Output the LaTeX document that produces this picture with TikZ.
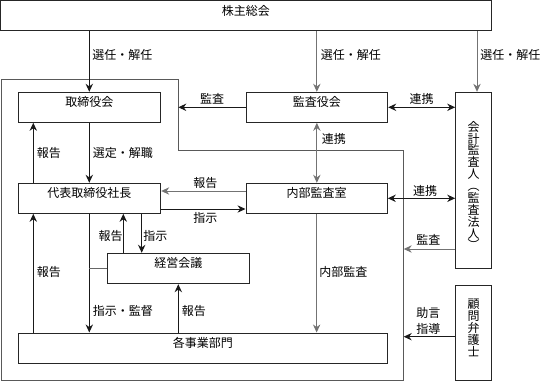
\documentclass[tikz,border=0pt]{standalone}
\usepackage{fontspec}
\setmainfont{Noto Sans CJK JP}
\usetikzlibrary{arrows.meta,fit,calc}
\begin{document}
\begin{tikzpicture}[x=0.75pt,y=-0.75pt,
  font=\fontsize{9}{9}\selectfont,
  box/.style={draw=black!85, line width=0.75pt, inner sep=0pt, align=center},
  arr/.style={-{Stealth[length=6pt,width=5.5pt]}, line width=0.75pt, draw=black!90},
  darr/.style={{Stealth[length=6pt,width=5.5pt]}-{Stealth[length=6pt,width=5.5pt]}, line width=0.75pt, draw=black!90},
  gl/.style={draw=black!55},
  frame/.style={draw=black!65, line width=0.75pt},
  lab/.style={inner sep=0pt, text height=0.85em, text depth=0.15em},
  vtext/.style={inner sep=0pt, align=center, font=\fontsize{9}{8.9}\selectfont}
]
\useasboundingbox (0,0) rectangle (540,382);

% company frame
\draw[frame] (1,79) -- (178.3,79) -- (178.3,150.3) -- (403.7,150.3) -- (403.7,380) -- (1,380) -- cycle;

% boxes
\node[box, fit={(0.5,0.5) (491.5,30.7)}] (top) {株主総会};
\node[box, fit={(18.3,92.3) (160.3,122.3)}] (tori) {取締役会};
\node[box, fit={(246,92.3) (387.7,122.3)}] (kansa) {監査役会};
\node[box, fit={(455.7,92.3) (491.7,268.3)}] (kaikei) {};
\node[vtext] (kaikeit) at (473.5,185.5) {会\\計\\監\\査\\人\\︵\\監\\査\\法\\人\\︶};
\node[box, fit={(18.3,183.3) (160.7,213.3)}] (daihyo) {代表取締役社長};
\node[box, fit={(246,183.3) (387.3,213.3)}] (naibu) {内部監査室};
\node[box, fit={(107.3,253.3) (249.3,283.7)}] (keiei) {経営会議};
\node[box, fit={(18.3,333) (387.7,363.3)}] (kakuji) {各事業部門};
\node[box, fit={(455.7,285.7) (491.7,380)}, font=\fontsize{9}{9}\selectfont] (komon) {顧\\問\\弁\\護\\士};

% helper coordinates
\coordinate (xk) at (477,0);
\coordinate (x33) at (33.3,0);
\coordinate (x123) at (123.3,0);
\coordinate (x142) at (141.7,0);
\coordinate (y191) at (0,191);
\coordinate (y209) at (0,209);
\coordinate (frA) at (178.3,107.3);
\coordinate (frB) at (403.7,249);
\coordinate (frC) at (403.7,336.7);

% connectors
\draw[arr] (top.south -| tori.north) -- (tori.north);
\draw[arr,gl] (top.south -| kansa.north) -- (kansa.north);
\draw[arr,gl] (top.south -| xk) -- (kaikei.north -| xk);
\draw[arr] (kansa.west) -- (frA);
\draw[darr] (kansa.east) -- (kansa.east -| kaikei.west);
\draw[arr] (daihyo.north -| x33) -- (tori.south -| x33);
\draw[arr] (tori.south) -- (tori.south |- daihyo.north);
\draw[arr,gl] (naibu.west |- y191) -- (daihyo.east |- y191);
\draw[arr] (daihyo.east |- y209) -- (naibu.west |- y209);
\draw[darr,gl] (kansa.south) -- (kansa.south |- naibu.north);
\draw[darr] (naibu.east) -- (naibu.east -| kaikei.west);
\draw[arr,gl] (kaikei.west |- frB) -- (frB);
\draw[arr] (keiei.north -| x123) -- (daihyo.south -| x123);
\draw[arr] (daihyo.south -| x142) -- (keiei.north -| x142);
\draw[arr] (kakuji.north -| x33) -- (daihyo.south -| x33);
\draw[arr] (daihyo.south -| tori.south) -- (kakuji.north -| tori.south);
\draw[line width=0.75pt, draw=black!60] (keiei.west) -- (keiei.west -| tori.south);
\draw[arr] (kakuji.north -| keiei.south) -- (keiei.south);
\draw[arr,gl] (naibu.south) -- (naibu.south |- kakuji.north);
\draw[arr] (komon.west |- frC) -- (frC);

% labels
\node[lab, anchor=west] (l1) at (92,55) {選任・解任};
\node[lab, anchor=west] (l2) at (320.7,55) {選任・解任};
\node[lab, anchor=west] (l3) at (480,55) {選任・解任};
\node[lab] (l4) at (212,99) {監査};
\node[lab] (l5) at (421.5,99) {連携};
\node[lab, anchor=west] (l6) at (36.7,153.3) {報告};
\node[lab, anchor=west] (l7) at (92.7,153.3) {選定・解職};
\node[lab] (l8) at (205.3,183.3) {報告};
\node[lab] (l9) at (205.3,218.3) {指示};
\node[lab, anchor=west] (l10) at (321.7,139) {連携};
\node[lab] (l11) at (425,191) {連携};
\node[lab] (l12) at (428.3,240) {監査};
\node[lab] (l13) at (110.5,235.7) {報告};
\node[lab] (l14) at (155.3,235.7) {指示};
\node[lab, anchor=west] (l15) at (36.7,271.7) {報告};
\node[lab, anchor=west] (l16) at (92.7,311) {指示・監督};
\node[lab, anchor=west] (l17) at (181.7,311) {報告};
\node[lab, anchor=west] (l18) at (319,271.7) {内部監査};
\node[inner sep=0pt, align=center, font=\fontsize{9}{12}\selectfont] (l19) at (428.3,321) {助言\\指導};
\end{tikzpicture}
\end{document}
